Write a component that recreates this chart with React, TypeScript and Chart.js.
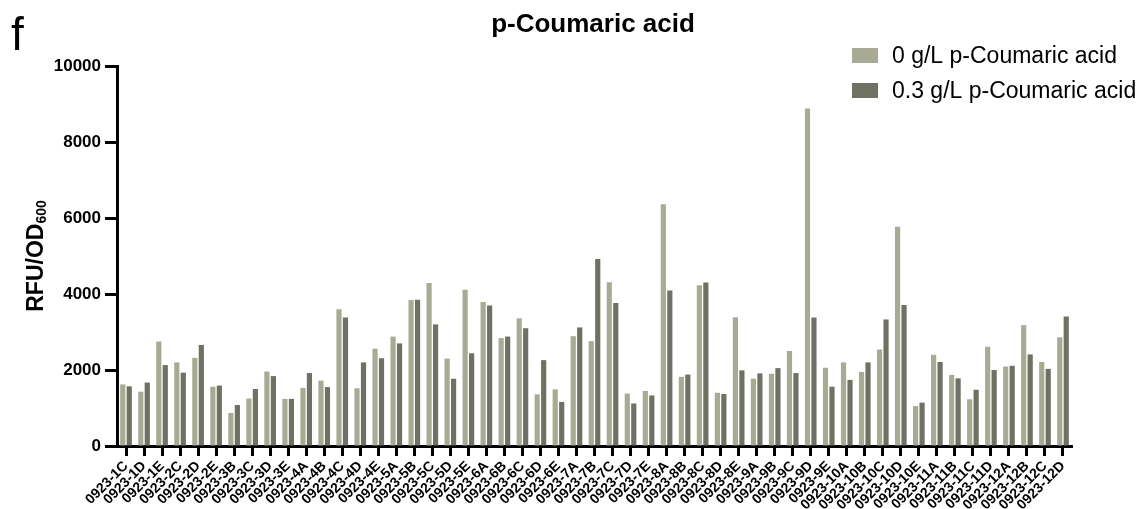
import React, { useEffect, useRef } from "react";
import { Chart, registerables } from "chart.js";

Chart.register(...registerables);

const categories = [
  "0923-1C", "0923-1D", "0923-1E", "0923-2C", "0923-2D", "0923-2E",
  "0923-3B", "0923-3C", "0923-3D", "0923-3E", "0923-4A", "0923-4B",
  "0923-4C", "0923-4D", "0923-4E", "0923-5A", "0923-5B", "0923-5C",
  "0923-5D", "0923-5E", "0923-6A", "0923-6B", "0923-6C", "0923-6D",
  "0923-6E", "0923-7A", "0923-7B", "0923-7C", "0923-7D", "0923-7E",
  "0923-8A", "0923-8B", "0923-8C", "0923-8D", "0923-8E", "0923-9A",
  "0923-9B", "0923-9C", "0923-9D", "0923-9E", "0923-10A", "0923-10B",
  "0923-10C", "0923-10D", "0923-10E", "0923-11A", "0923-11B", "0923-11C",
  "0923-11D", "0923-12A", "0923-12B", "0923-12C", "0923-12D",
];

const control = [
  1620, 1430, 2750, 2200, 2320, 1560,
  870, 1250, 1960, 1240, 1530, 1720,
  3600, 1520, 2560, 2880, 3840, 4290,
  2300, 4110, 3790, 2840, 3360, 1360,
  1490, 2890, 2760, 4310, 1380, 1450,
  6360, 1820, 4230, 1400, 3390, 1770,
  1900, 2500, 8880, 2060, 2200, 1950,
  2540, 5770, 1050, 2400, 1870, 1230,
  2610, 2090, 3180, 2210, 2860,
];

const treated = [
  1570, 1670, 2130, 1930, 2660, 1590,
  1080, 1500, 1840, 1240, 1920, 1550,
  3380, 2200, 2310, 2700, 3850, 3200,
  1770, 2440, 3700, 2880, 3100, 2260,
  1160, 3120, 4920, 3760, 1120, 1330,
  4090, 1880, 4300, 1370, 1990, 1910,
  2050, 1920, 3380, 1560, 1740, 2200,
  3330, 3710, 1140, 2210, 1780, 1480,
  2000, 2110, 2410, 2030, 3410,
];

const yTicks = [0, 2000, 4000, 6000, 8000, 10000];

const seriesNames = ["0 g/L p-Coumaric acid", "0.3 g/L p-Coumaric acid"];
const seriesColors = ["#a9aa94", "#6f7262"];

const FONT = "'Liberation Sans', Arial, sans-serif";

const decorPlugin = {
  id: "decor",
  afterDraw(chart: any) {
    const ctx = chart.ctx;
    ctx.save();
    ctx.fillStyle = "#000";
    ctx.font = `46px ${FONT}`;
    ctx.textAlign = "left";
    ctx.textBaseline = "alphabetic";
    ctx.fillText("f", 11, 50);
    ctx.font = `bold 26px ${FONT}`;
    ctx.textAlign = "center";
    ctx.textBaseline = "middle";
    ctx.fillText("p-Coumaric acid", 593, 25);
    ctx.save();
    ctx.translate(43, 256);
    ctx.rotate(-Math.PI / 2);
    ctx.textBaseline = "alphabetic";
    ctx.textAlign = "left";
    ctx.font = `bold 23px ${FONT}`;
    const main = "RFU/OD";
    const mw = ctx.measureText(main).width;
    ctx.font = `bold 14px ${FONT}`;
    const sub = "600";
    const sw = ctx.measureText(sub).width;
    const total = mw + sw;
    ctx.font = `bold 23px ${FONT}`;
    ctx.fillText(main, -total / 2, 0);
    ctx.font = `bold 14px ${FONT}`;
    ctx.fillText(sub, -total / 2 + mw, 3);
    ctx.restore();
    const rows = [55.5, 90.5];
    ctx.font = `23px ${FONT}`;
    ctx.textAlign = "left";
    ctx.textBaseline = "middle";
    for (let i = 0; i < 2; i++) {
      ctx.fillStyle = seriesColors[i];
      ctx.fillRect(852, rows[i] - 7.5, 26, 15);
      ctx.fillStyle = "#000";
      ctx.fillText(seriesNames[i], 892, rows[i] + 1);
    }
    ctx.restore();
  },
};

export default function App() {
  const ref = useRef<HTMLCanvasElement>(null);
  useEffect(() => {
    document.body.style.margin = "0";
    const chart = new Chart(ref.current as HTMLCanvasElement, {
      type: "bar",
      data: {
        labels: categories,
        datasets: [
          { label: seriesNames[0], data: control, backgroundColor: seriesColors[0] },
          { label: seriesNames[1], data: treated, backgroundColor: seriesColors[1] },
        ],
      },
      options: {
        responsive: false,
        animation: false,
        datasets: { bar: { categoryPercentage: 0.72, barPercentage: 0.8 } },
        layout: { padding: { left: 0, top: 66, right: 75, bottom: 0 } },
        plugins: { legend: { display: false }, title: { display: false }, tooltip: { enabled: false } },
        scales: {
          x: {
            afterFit: (s: any) => { s.height = 63; },
            grid: {
              display: true,
              drawOnChartArea: false,
              drawTicks: true,
              tickLength: 10,
              tickWidth: 3,
              tickColor: "#000",
              offset: false,
            },
            border: { display: true, width: 3, color: "#000" },
            ticks: {
              autoSkip: false,
              minRotation: 45,
              maxRotation: 45,
              color: "#000",
              padding: 2,
              font: { family: FONT, size: 14, weight: "bold" },
            },
          },
          y: {
            min: 0,
            max: 10000,
            afterFit: (s: any) => { s.width = 117; },
            afterBuildTicks: (s: any) => { s.ticks = yTicks.map((v) => ({ value: v })); },
            grid: {
              display: true,
              drawOnChartArea: false,
              drawTicks: true,
              tickLength: 12,
              tickWidth: 3,
              tickColor: "#000",
            },
            border: { display: true, width: 3, color: "#000" },
            ticks: {
              color: "#000",
              padding: 4,
              callback: (v: any) => String(v),
              font: { family: FONT, size: 17, weight: "bold" },
            },
          },
        },
      },
      plugins: [decorPlugin],
    });
    return () => chart.destroy();
  }, []);
  return (
    <div style={{ position: "fixed", left: 0, top: 0, width: 1147, height: 509, background: "#fff" }}>
      <canvas ref={ref} width={1147} height={509} />
    </div>
  );
}
